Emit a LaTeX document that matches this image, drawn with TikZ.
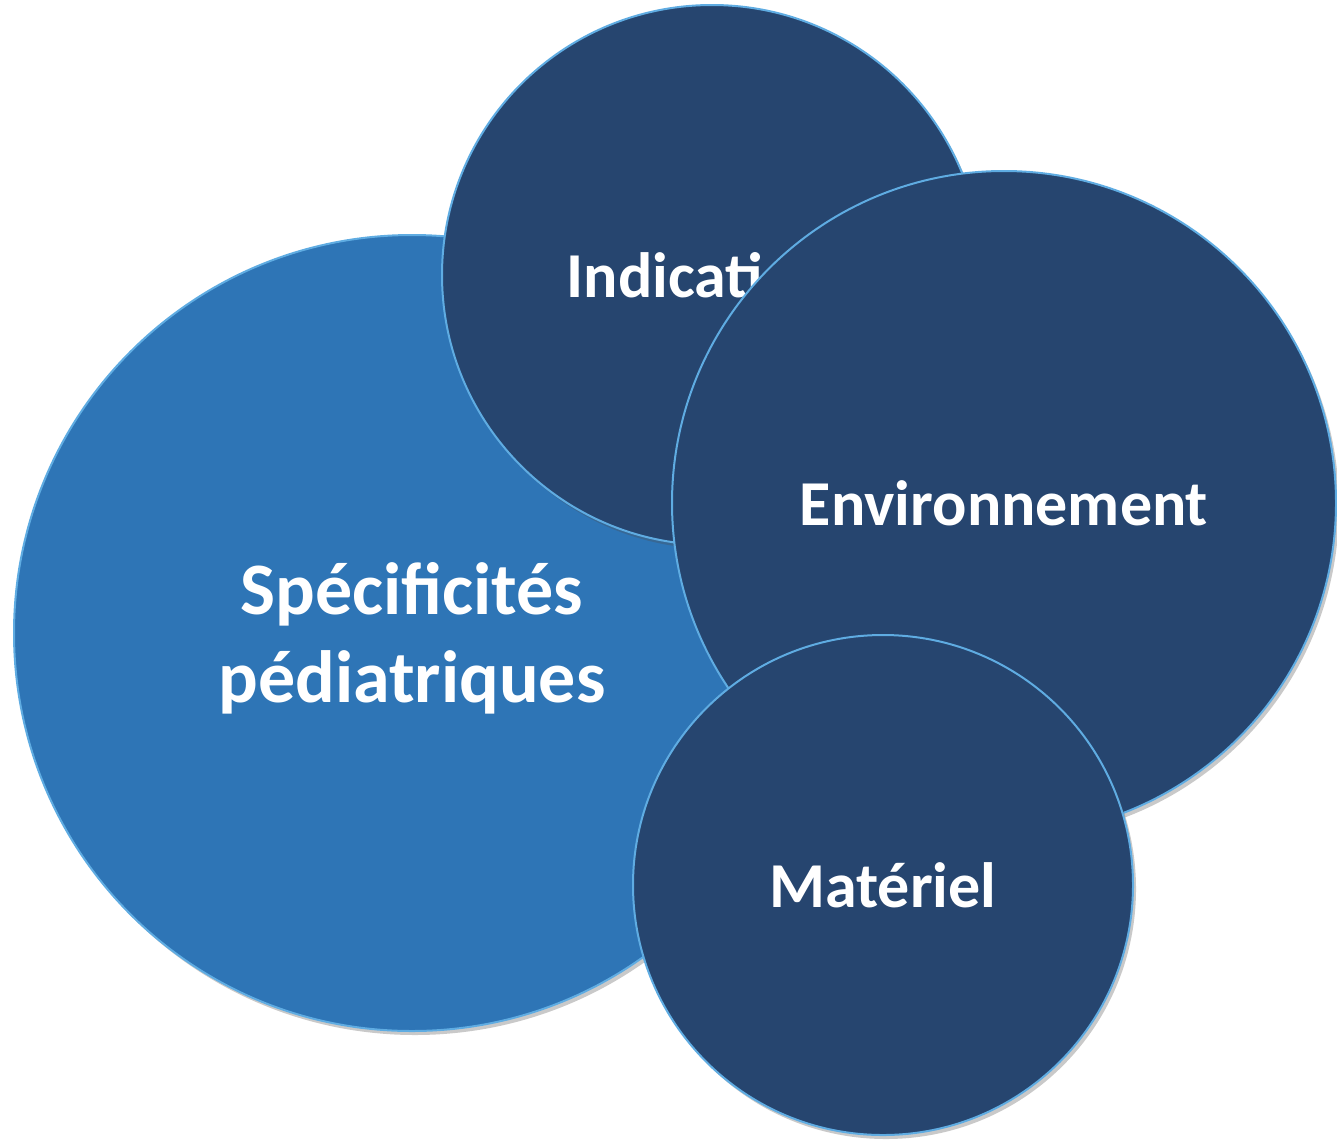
\documentclass[tikz,border=0pt]{standalone}
\usepackage{fontspec}
\setmainfont{Carlito}
\usetikzlibrary{shadows}
\definecolor{lightfill}{RGB}{46,117,182}
\definecolor{darkfill}{RGB}{38,69,111}
\definecolor{rim}{RGB}{95,172,226}
\tikzset{
  bubble/.style={circle, inner sep=0pt, draw=rim, line width=2pt, text=white,
    font=\bfseries\fontsize{64}{88}\selectfont, align=center,
    drop shadow={shadow xshift=3pt, shadow yshift=-4pt, opacity=0.3, fill=black!70}},
  lightbubble/.style={bubble, fill=lightfill},
  darkbubble/.style={bubble, fill=darkfill}
}
\begin{document}
\begin{tikzpicture}[x=1pt,y=-1pt]
\useasboundingbox (0,0) rectangle (1337,1141);
\node[lightbubble, minimum size=796pt,
  label={[text=white, align=center, yshift=-5pt, font=\bfseries\fontsize{74}{88}\selectfont]center:Spécificités\\pédiatriques}] (spec) at (412,633) {};
\node[darkbubble, minimum size=540pt] (ind) at (712,275) {Indications};
\node[darkbubble, minimum size=664pt] (env) at (1004,503) {Environnement};
\node[darkbubble, minimum size=500pt] (mat) at (883,885) {Matériel};
\end{tikzpicture}
\end{document}
